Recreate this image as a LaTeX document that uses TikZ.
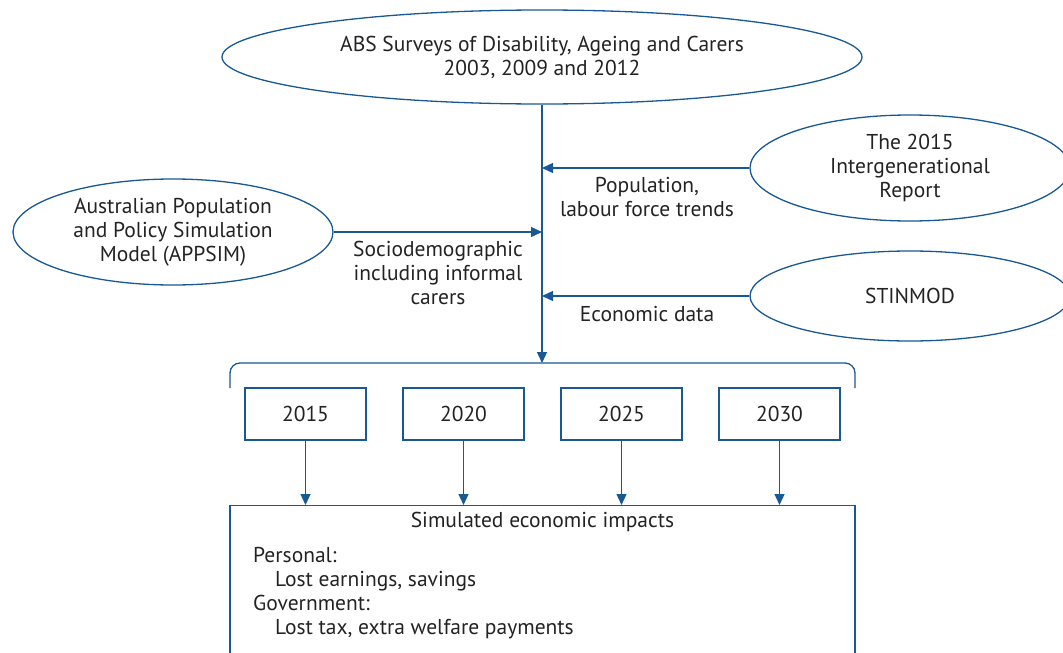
\documentclass[tikz,border=0pt]{standalone}
\usepackage{fontspec}
\setmainfont{PT Sans}
\usetikzlibrary{arrows.meta,shapes.geometric}
\definecolor{flowblue}{RGB}{24,88,148}
\definecolor{ink}{RGB}{35,35,35}
\begin{document}
\begin{tikzpicture}[x=1pt,y=-1pt,
  every node/.style={text=ink,font=\fontsize{21.5}{24}\selectfont},
  source/.style={ellipse,draw=flowblue,line width=1.3pt,inner sep=0pt,align=center},
  yearbox/.style={rectangle,draw=flowblue,line width=1.3pt,minimum width=121pt,minimum height=52pt,inner sep=0pt},
  flow/.style={draw=flowblue,line width=1.3pt,-{Triangle[length=11pt,width=10pt]}},
  note/.style={align=center,inner sep=0pt}]
\useasboundingbox (0,0) rectangle (1063,653);
\clip (0,0) rectangle (1063,653);

% data sources
\node[source,minimum width=640pt,minimum height=94pt] (abs) at (542,57)
  {ABS Surveys of Disability, Ageing and Carers\\2003, 2009 and 2012};
\node[source,minimum width=320pt,minimum height=106pt] (igr) at (910,168)
  {The 2015\\Intergenerational\\Report};
\node[source,minimum width=320pt,minimum height=90pt] (stin) at (910,296)
  {STINMOD};
\node[source,minimum width=320pt,minimum height=106pt] (app) at (173,232)
  {Australian Population\\and Policy Simulation\\Model (APPSIM)};

% bracket collecting the projection years
\coordinate (bl) at (230,388);
\coordinate (br) at (855,388);
\coordinate (bt) at (542,363);
\draw[flowblue,line width=1.3pt,rounded corners=10pt] (bl) |- (bt) -| (br);

% inputs feeding the main flow
\draw[flow] (abs.south) -- (bt);
\draw[flow] (igr.west) -- (igr.west -| abs.south);
\draw[flow] (stin.west) -- (stin.west -| abs.south);
\draw[flow] (app.east) -- (app.east -| abs.south);

\node[note] (lpop) at (647,197) {Population,\\labour force trends};
\node[note] (leco) at (647,314) {Economic data};
\node[note] (lsoc) at (438,273) {Sociodemographic\\including informal\\carers};

% projection years
\node[yearbox] (y15) at (305.5,414) {2015};
\node[yearbox] (y20) at (463.5,414) {2020};
\node[yearbox] (y25) at (621.5,414) {2025};
\node[yearbox] (y30) at (779.5,414) {2030};

% outcomes
\node[rectangle,draw=flowblue,line width=1.3pt,minimum width=625pt,minimum height=200pt,anchor=north,inner sep=0pt] (out) at (542.5,505) {};
\node[inner sep=0pt] (otitle) at (542.5,522) {Simulated economic impacts};
\node[align=left,inner sep=0pt,anchor=north west] (olist) at (253,547)
  {Personal:\\\hspace*{22pt}Lost earnings, savings\\Government:\\\hspace*{22pt}Lost tax, extra welfare payments};

\foreach \y in {y15,y20,y25,y30}
  \draw[flow] (\y.south) -- (\y.south |- out.north);
\end{tikzpicture}
\end{document}
